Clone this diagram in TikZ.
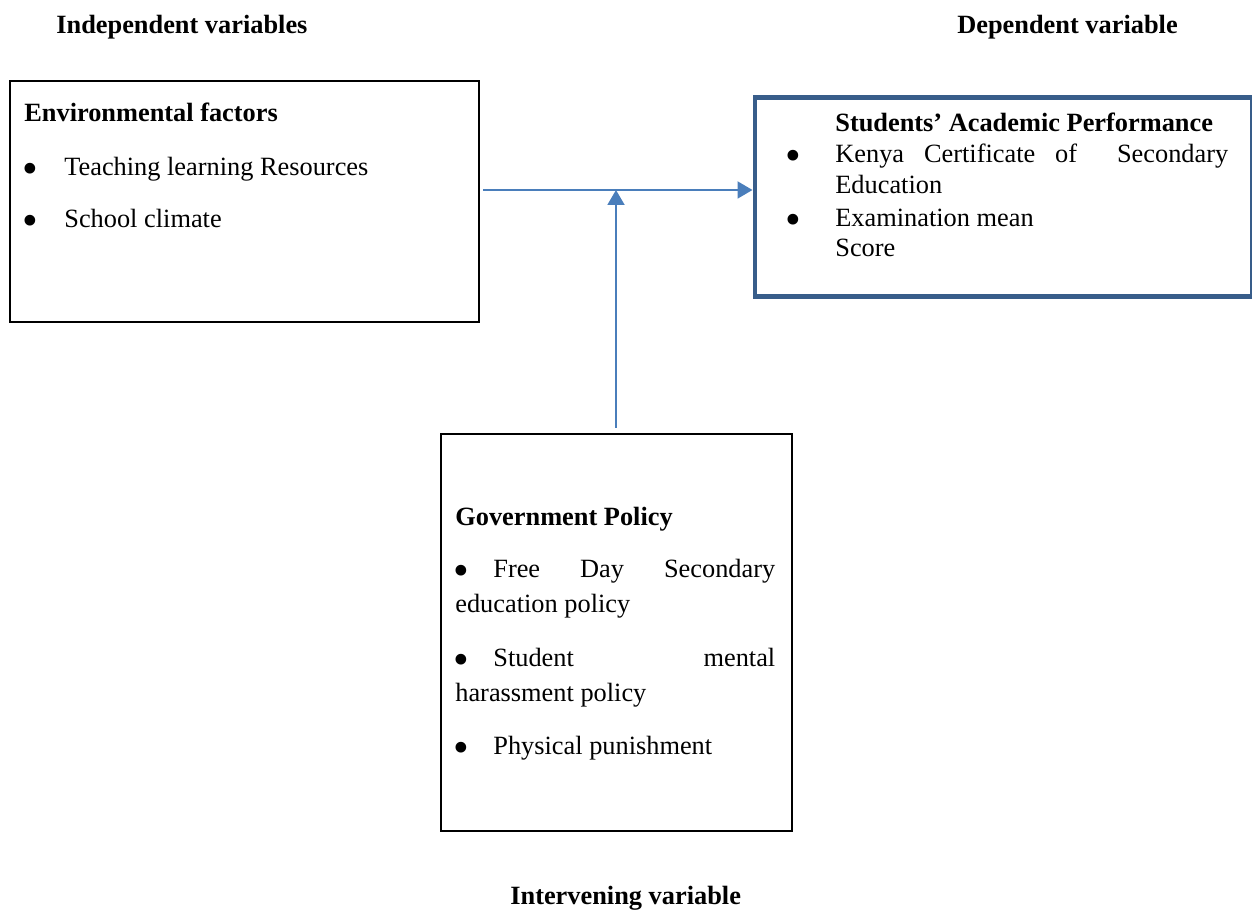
\documentclass[tikz,border=0pt]{standalone}
\usepackage{fontspec}
\setmainfont{Liberation Serif}
\usepackage{graphicx}
\usepackage{tikz}
\usetikzlibrary{arrows.meta}
\definecolor{linkblue}{HTML}{4A7EBB}
\definecolor{boxblue}{HTML}{385D8A}
\newcommand{\bigbullet}{\raisebox{-4.2pt}{\scalebox{1.7}{\textbullet}}}

\begin{document}
\begin{tikzpicture}[x=0.02cm, y=-0.02cm,
    txt/.style={anchor=base west, inner sep=0pt, font=\fontsize{15}{18}\selectfont},
    head/.style={txt, font=\fontsize{15}{18}\selectfont\bfseries},
    varbox/.style={draw, line width=1.1pt, anchor=north west, inner sep=0pt},
    link/.style={-{Triangle[length=3mm, width=3.4mm]}, line width=1.1pt, linkblue}]
    \useasboundingbox (0,0) rectangle (1252,911);

    % --- Column headings ---
    \node[head] (indep) at (56,34) {Independent variables};
    \node[head] (depend) at (957,34) {Dependent variable};
    \node[head] (interv) at (510,905) {Intervening variable};

    % --- Independent variables box ---
    \node[varbox, minimum width=9.38cm, minimum height=4.82cm] (env) at (9,80) {};
    \node[head] (envtitle) at (24,122) {Environmental factors};
    \node[txt] (envb1) at (22,176) {\bigbullet};
    \node[txt] (envi1) at (64,176) {Teaching learning Resources};
    \node[txt] (envb2) at (22,228) {\bigbullet};
    \node[txt] (envi2) at (64,228) {School climate};

    % --- Dependent variable box ---
    \node[varbox, draw=boxblue, line width=2.6pt, minimum width=9.95cm, minimum height=3.98cm] (dep) at (752.5,95) {};
    \node[head] (deptitle) at (835,132) {Students’ Academic Performance};
    \node[txt] (depb1) at (785,163) {\bigbullet};
    \node[txt] (depi1) at (835,163) {\makebox[7.86cm][s]{Kenya\hfill Certificate\hfill of\hfill\hfill Secondary}};
    \node[txt] (depi1b) at (835,194) {Education};
    \node[txt] (depb2) at (785,227) {\bigbullet};
    \node[txt] (depi2) at (835,227) {Examination mean};
    \node[txt] (depi2b) at (835,257) {Score};

    % --- Intervening variable box ---
    \node[varbox, minimum width=7.02cm, minimum height=7.94cm] (gov) at (440,433) {};
    \node[head] (govtitle) at (455,526) {Government Policy};
    \node[txt] (govb1) at (453,578) {\bigbullet};
    \node[txt] (govi1) at (493,578) {\makebox[5.64cm][s]{Free\hfill Day\hfill Secondary}};
    \node[txt] (govi1b) at (455,613) {education policy};
    \node[txt] (govb2) at (453,667) {\bigbullet};
    \node[txt] (govi2) at (493,667) {\makebox[5.64cm][s]{Student\hfill mental}};
    \node[txt] (govi2b) at (455,702) {harassment policy};
    \node[txt] (govb3) at (453,755) {\bigbullet};
    \node[txt] (govi3) at (493,755) {Physical punishment};

    % --- Links ---
    \coordinate (src) at (483,190);
    \coordinate (meet) at (616,190);
    \coordinate (govtop) at (616,428);
    \draw[link] (src) -- (dep.west |- src);
    \draw[link] (govtop) -- (meet);
\end{tikzpicture}
\end{document}
